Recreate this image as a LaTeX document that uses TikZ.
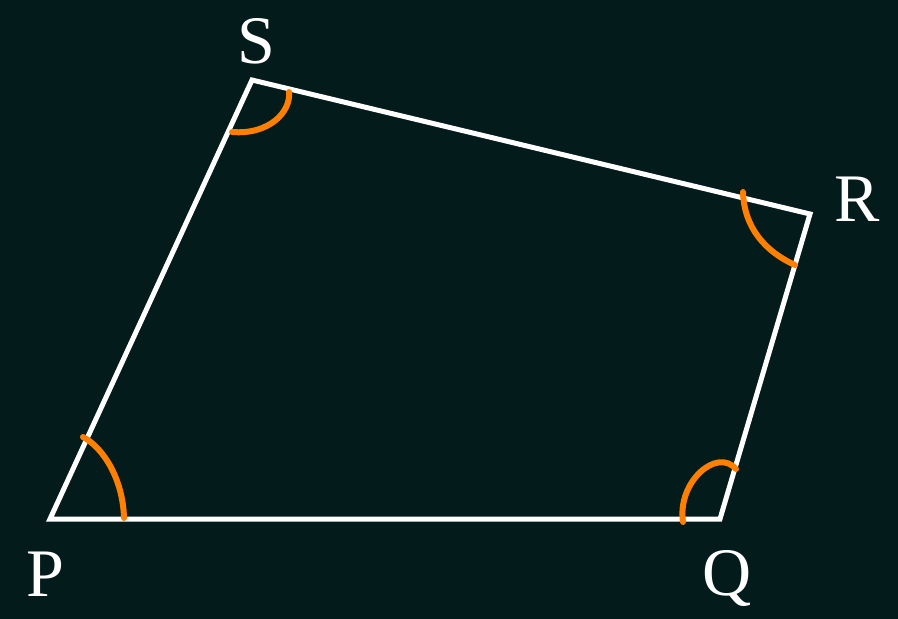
\documentclass[tikz,border=0pt]{standalone}
\usepackage{fontspec}
\setmainfont{Liberation Serif}
\definecolor{bg}{HTML}{031B1B}
\definecolor{arcor}{HTML}{FF7F00}
\begin{document}
\begin{tikzpicture}[x=1pt,y=-1pt,
  side/.style={draw=white,line width=5pt,line join=miter},
  anglearc/.style={draw=arcor,line width=6pt,line cap=round},
  vlabel/.style={text=white,font=\fontsize{68}{68}\selectfont,inner sep=0pt}]
\fill[bg] (0,0) rectangle (898,619);
\useasboundingbox (0,0) rectangle (898,619);
\coordinate (P) at (50,519);
\coordinate (Q) at (720,519);
\coordinate (R) at (810,214);
\coordinate (S) at (252,80);
\draw[side] (P) -- (Q) -- (R) -- (S) -- cycle;
\draw[anglearc] (83,437) .. controls (104,448) and (123,480) .. (124,518);
\draw[anglearc] (683,522) .. controls (677,482) and (717,447) .. (736,469);
\draw[anglearc] (743,192) .. controls (744,228) and (766,252) .. (795,265);
\draw[anglearc] (289,92) .. controls (291,112) and (269,135) .. (232,132);
\node[vlabel] (lP) at (45,574) {P};
\node[vlabel] (lQ) at (727,578) {Q};
\node[vlabel] (lR) at (857,199) {R};
\node[vlabel] (lS) at (256,41) {S};
\end{tikzpicture}
\end{document}
